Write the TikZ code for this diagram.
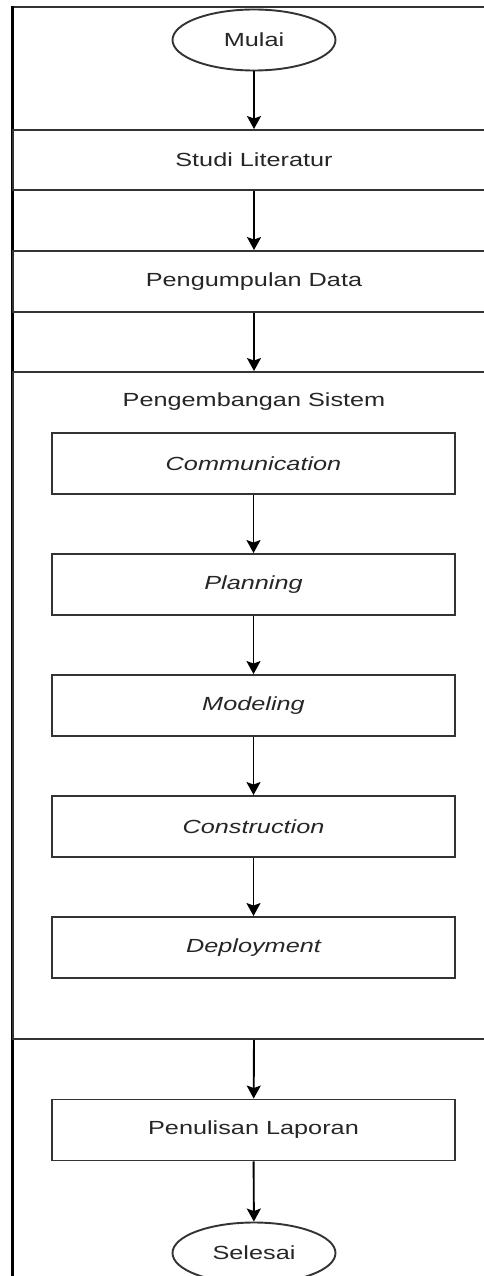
\documentclass[tikz,border=0pt]{standalone}
\usepackage{fontspec}
\setmainfont{Liberation Sans}[FakeStretch=1.33]
\usetikzlibrary{shapes.geometric,arrows.meta}

\tikzset{
  boxline/.style={draw=black!80, line width=1.9pt},
  stepbox/.style={boxline, rectangle, minimum width=403pt, minimum height=61pt, inner sep=0pt},
  widebox/.style={boxline, rectangle, minimum width=482pt, inner sep=0pt},
  terminal/.style={boxline, ellipse, minimum width=163pt, minimum height=61pt, inner sep=0pt},
  arr/.style={draw=black, line width=1.9pt, -{Stealth[length=13pt,width=14pt,inset=2.5pt]}},
  txt/.style={font=\fontsize{19pt}{23pt}\selectfont, text=black!85},
  itxt/.style={font=\fontsize{19pt}{23pt}\selectfont\itshape, text=black!85},
}

\begin{document}
\begin{tikzpicture}[x=1pt,y=-1pt]
  \useasboundingbox (0,0) rectangle (484,1276);
  \fill[white] (0,0) rectangle (484,1276);
  \clip (0,0) rectangle (484,1276);

  % page frame
  \draw[line width=1.9pt, draw=black!80] (12,7) -- (500,7);
  \draw[line width=3pt, draw=black] (12,6) -- (12,1290);

  % start / end
  \node[terminal, txt] (mulai) at (254,40) {Mulai};
  \node[terminal, txt] (selesai) at (254,1253) {Selesai};

  % main stages
  \node[widebox, minimum height=60pt, txt] (studi) at (254,160) {Studi Literatur};
  \node[widebox, minimum height=61pt, txt] (data) at (254,281.5) {Pengumpulan Data};
  \node[widebox, minimum height=667pt] (dev) at (254,705.5) {};
  \node[txt] (devlabel) at (254,402) {Pengembangan Sistem};
  \node[stepbox, txt] (lapor) at (253.5,1130) {Penulisan Laporan};

  % development phases
  \node[stepbox, itxt] (comm)   at (253.5,463.5) {Communication};
  \node[stepbox, itxt] (plan)   at (253.5,584.5) {Planning};
  \node[stepbox, itxt] (model)  at (253.5,705.5) {Modeling};
  \node[stepbox, itxt] (constr) at (253.5,826.5) {Construction};
  \node[stepbox, itxt] (deploy) at (253.5,947.5) {Deployment};

  % flow
  \draw[arr] (mulai) -- (studi);
  \draw[arr] (studi) -- (data);
  \draw[arr] (data) -- (dev.north);
  \draw[arr] (comm) -- (plan);
  \draw[arr] (plan) -- (model);
  \draw[arr] (model) -- (constr);
  \draw[arr] (constr) -- (deploy);
  \draw[arr] (dev.south) -- (lapor);
  \draw[arr] (lapor) -- (selesai);
\end{tikzpicture}
\end{document}
